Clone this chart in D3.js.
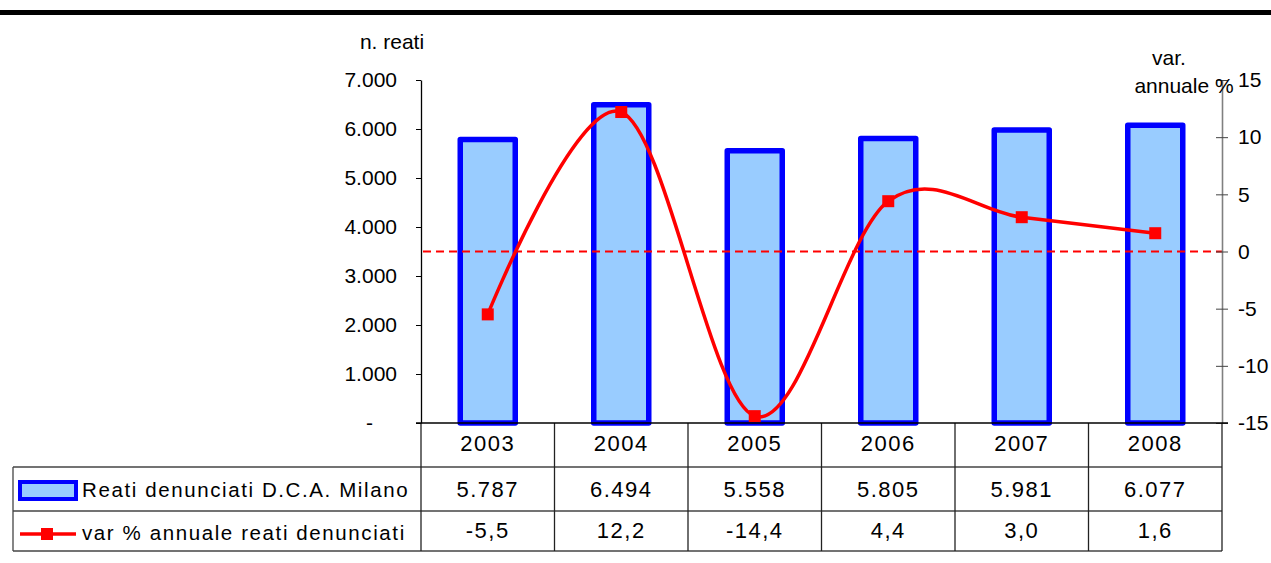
<!DOCTYPE html>
<html><head><meta charset="utf-8">
<script src="https://cdn.jsdelivr.net/npm/d3@7"></script>
<style>
body{margin:0;background:#fff;}
svg text{font-family:"Liberation Sans",Arial,sans-serif;fill:#000;}
</style></head>
<body><svg id="c" width="1271" height="563"></svg>
<script>
const years = ["2003","2004","2005","2006","2007","2008"];
const reati = [5787, 6494, 5558, 5805, 5981, 6077];
const varPct = [-5.5, 12.2, -14.4, 4.4, 3.0, 1.6];
const leftTicks = [0,1000,2000,3000,4000,5000,6000,7000];
const rightTicks = [-15,-10,-5,0,5,10,15];
const seriesNames = ["Reati denunciati D.C.A. Milano","var % annuale reati denunciati"];

const loc = d3.formatLocale({decimal:",",thousands:".",grouping:[3],currency:["€",""],minus:"-"});
const fInt = loc.format(",.0f");
const fDec = loc.format(".1f");
const fR = loc.format("d");

const svg = d3.select("#c");
const L = 421, R = 1222, T = 80, B = 423;
const x = d3.scaleBand().domain(years).range([L, R]);
const yL = d3.scaleLinear().domain([0,7000]).range([B, T]);
const yR = d3.scaleLinear().domain([-15,15]).range([B, T]);

// top rule
svg.append("rect").attr("x",0).attr("y",10).attr("width",1271).attr("height",5).attr("fill","#000");

// bars
const bw = 55;
svg.append("g").selectAll("rect").data(years).join("rect")
  .attr("x", d => x(d) + x.bandwidth()/2 - bw/2)
  .attr("y", (d,i) => yL(reati[i]))
  .attr("width", bw)
  .attr("height", (d,i) => yL(0) - yL(reati[i]))
  .attr("fill","#99CCFF").attr("stroke","#0000FF").attr("stroke-width",5.5)
  .attr("stroke-linejoin","round");

// zero dashed line
svg.append("line").attr("x1",L+2).attr("x2",R).attr("y1",yR(0)).attr("y2",yR(0))
  .attr("stroke","#FF0000").attr("stroke-width",1.8).attr("stroke-dasharray","8,5");

// left axis
const gL = svg.append("g").attr("transform",`translate(${L},0)`)
  .call(d3.axisLeft(yL).tickValues(leftTicks).tickSizeInner(5).tickSizeOuter(0).tickPadding(19)
    .tickFormat(d => d===0 ? "-" : fInt(d)));
gL.select(".domain").attr("stroke","#000").attr("stroke-width",1.3);
gL.selectAll("text").style("font-size","21px").style("font-family","Liberation Sans, Arial");
gL.selectAll(".tick").filter(d => d===0).select("text").attr("dx",-24);

// right axis
const gR = svg.append("g").attr("transform",`translate(${R},0)`)
  .call(d3.axisRight(yR).tickValues(rightTicks).tickSizeInner(6).tickSizeOuter(0).tickPadding(10).tickFormat(fR));
gR.select(".domain").attr("stroke","#808080").attr("stroke-width",1.6);
gR.selectAll(".tick line").attr("x1",-6).attr("stroke","#444");
gR.selectAll("text").style("font-size","21px").style("font-family","Liberation Sans, Arial");

// axis titles
svg.append("text").attr("x",392).attr("y",49).attr("text-anchor","middle").style("font-size","21px").text("n. reati");
svg.append("text").attr("x",1169).attr("y",65).attr("text-anchor","middle").style("font-size","21px").text("var.");
svg.append("text").attr("x",1184).attr("y",93).attr("text-anchor","middle").style("font-size","21px").text("annuale %");

// line
const pts = years.map((d,i) => [x(d)+x.bandwidth()/2, yR(varPct[i])]);
svg.append("path").attr("d", d3.line().curve(d3.curveCardinal.tension(0))(pts))
  .attr("fill","none").attr("stroke","#FF0000").attr("stroke-width",3.5);
svg.append("g").selectAll("rect").data(pts).join("rect")
  .attr("x", p => p[0]-6).attr("y", p => p[1]-6).attr("width",12).attr("height",12).attr("fill","#FF0000");

// data table
const tg = svg.append("g");
[467, 511, 551].forEach(yy => {
  tg.append("line").attr("x1",13).attr("x2",R).attr("y1",yy).attr("y2",yy).attr("stroke","#444").attr("stroke-width",1.3);
});
tg.append("line").attr("x1",13).attr("x2",13).attr("y1",467).attr("y2",551).attr("stroke","#444").attr("stroke-width",1.3);
const vx = years.map(d => x(d)).concat([R]);
tg.selectAll("line.v").data(vx).join("line").attr("class","v")
  .attr("x1",d=>d).attr("x2",d=>d).attr("y1",B).attr("y2",551).attr("stroke","#222").attr("stroke-width",1.3);
tg.append("line").attr("x1",L-5).attr("x2",R+6).attr("y1",B).attr("y2",B).attr("stroke","#000").attr("stroke-width",1.3);

const cx = d => x(d)+x.bandwidth()/2;
const cellText = (cls, yy, fn) => tg.selectAll("text."+cls).data(years).join("text").attr("class",cls)
  .attr("x",cx).attr("y",yy).attr("text-anchor","middle").style("font-size","22px").style("letter-spacing","1.5px").text(fn);
cellText("yr", 451, d => d);
cellText("v1", 497, (d,i) => fInt(reati[i]));
cellText("v2", 538, (d,i) => fDec(varPct[i]));

// legend keys
tg.append("rect").attr("x",20).attr("y",482).attr("width",56).attr("height",17)
  .attr("fill","#99CCFF").attr("stroke","#0000FF").attr("stroke-width",4);
tg.append("line").attr("x1",20).attr("x2",76).attr("y1",534).attr("y2",534).attr("stroke","#FF0000").attr("stroke-width",3.5);
tg.append("rect").attr("x",41).attr("y",528).attr("width",12).attr("height",12).attr("fill","#FF0000");
tg.append("text").attr("x",82).attr("y",497).style("font-size","20.5px").style("letter-spacing","1.6px").text(seriesNames[0]);
tg.append("text").attr("x",82).attr("y",540).style("font-size","20.5px").style("letter-spacing","1.6px").text(seriesNames[1]);
</script></body></html>
